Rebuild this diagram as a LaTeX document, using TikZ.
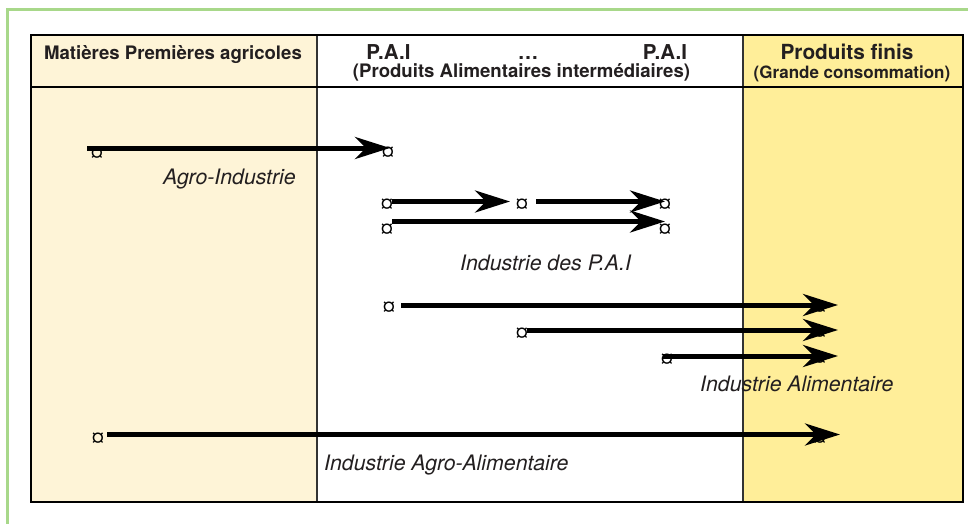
\documentclass[tikz,border=0pt]{standalone}
\usepackage{fontspec}
\setmainfont{TeX Gyre Heros}
\usetikzlibrary{arrows.meta}
\definecolor{frameGreen}{HTML}{A8D88A}
\definecolor{creamCol}{HTML}{FEF4D7}
\definecolor{yellowCol}{HTML}{FFEE99}
\definecolor{textDark}{HTML}{231F20}
\definecolor{divGray}{HTML}{333333}
\tikzset{
  hdrA/.style={font=\bfseries\fontsize{18.6}{20}\selectfont, text=textDark, anchor=base, inner sep=0pt},
  hdrB/.style={font=\bfseries\fontsize{20.5}{22}\selectfont, text=textDark, anchor=base, inner sep=0pt},
  hdrC/.style={font=\bfseries\fontsize{20.8}{22}\selectfont, text=textDark, anchor=base, inner sep=0pt},
  hdrD/.style={font=\bfseries\fontsize{17}{19}\selectfont, text=textDark, anchor=base, inner sep=0pt},
  lbl/.style={font=\itshape\fontsize{21.3}{23}\selectfont, text=textDark, anchor=base west, inner sep=0pt},
  curmark/.style={font=\fontsize{21}{21}\selectfont, inner sep=0pt},
  flow/.style={line width=5pt, -{Stealth[length=35pt,width=22pt,inset=11pt]}},
}
\begin{document}
\begin{tikzpicture}[x=1pt,y=-1pt]
\useasboundingbox (0,0) rectangle (968,524);
% green frame
\draw[frameGreen, line width=3pt] (7.5,530) -- (7.5,9.5) -- (975,9.5);
% column fills
\fill[creamCol] (31,35) rectangle (317,502);
\fill[yellowCol] (743,35) rectangle (963,502);
% table lines
\draw[divGray, line width=2pt] (317,35) -- (317,502);
\draw[divGray, line width=2pt] (743,35) -- (743,502);
\draw[black, line width=2pt] (31,87) -- (963,87);
\draw[black, line width=2.5pt] (31,35) rectangle (963,502);
% header texts
\node[hdrA] (h1) at (173,59.3) {Matières Premières agricoles};
\node[hdrB] (pai1) at (388.5,59.8) {P.A.I};
\node[hdrB] (dots) at (528,59.8) {…};
\node[hdrB] (pai2) at (665,59.8) {P.A.I};
\node[hdrA] (pai3) at (521.5,78) {(Produits Alimentaires intermédiaires)};
\node[hdrC] (pf) at (847,59.5) {Produits finis};
\node[hdrD] (gc) at (852,79) {(Grande consommation)};
% markers
\node[curmark] (m1a) at (97,154) {¤};
\node[curmark] (m1b) at (388,153) {¤};
\node[curmark] (m2a) at (387,205) {¤};
\node[curmark] (m2b) at (522,205) {¤};
\node[curmark] (m3b) at (665,205) {¤};
\node[curmark] (m4a) at (387,230) {¤};
\node[curmark] (m4b) at (665,230) {¤};
\node[curmark] (m5a) at (389,308) {¤};
\node[curmark] (m5b) at (820,308) {¤};
\node[curmark] (m6a) at (522,334) {¤};
\node[curmark] (m6b) at (820,333) {¤};
\node[curmark] (m7a) at (667,360) {¤};
\node[curmark] (m7b) at (820,359) {¤};
\node[curmark] (m8a) at (98,439) {¤};
\node[curmark] (m8b) at (820,439) {¤};
% arrow end points
\coordinate (s1) at (87,148);   \coordinate (e1) at (390,148);
\coordinate (s2) at (392,201.5); \coordinate (e2) at (510,201.5);
\coordinate (s3) at (536,201.5); \coordinate (e3) at (665,201.5);
\coordinate (s4) at (392,221.5); \coordinate (e4) at (665,221.5);
\coordinate (s5) at (401,305);   \coordinate (e5) at (838,305);
\coordinate (s6) at (527,330);   \coordinate (e6) at (838,330);
\coordinate (s7) at (663,356);   \coordinate (e7) at (838,356);
\coordinate (s8) at (107,434.5); \coordinate (e8) at (840,434.5);
\draw[flow] (s1) -- (e1);
\draw[flow] (s2) -- (e2);
\draw[flow] (s3) -- (e3);
\draw[flow] (s4) -- (e4);
\draw[flow] (s5) -- (e5);
\draw[flow] (s6) -- (e6);
\draw[flow] (s7) -- (e7);
\draw[flow] (s8) -- (e8);
% labels
\node[lbl] (l1) at (163,184) {Agro-Industrie};
\node[lbl] (l2) at (460,270.7) {Industrie des P.A.I};
\node[lbl] (l3) at (700,391.7) {Industrie Alimentaire};
\node[lbl] (l4) at (324,470) {Industrie Agro-Alimentaire};
\end{tikzpicture}
\end{document}
